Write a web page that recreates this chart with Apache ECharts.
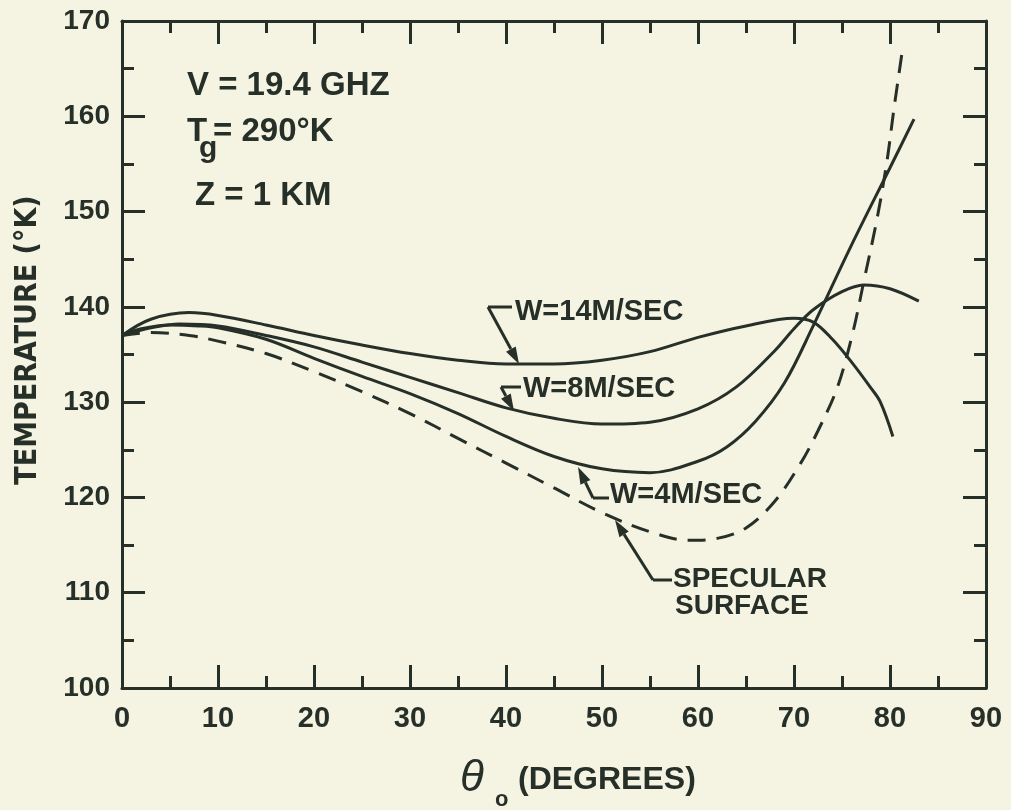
<!DOCTYPE html>
<html><head><meta charset="utf-8">
<script src="https://cdn.jsdelivr.net/npm/echarts/dist/echarts.min.js"></script>
<style>html,body{margin:0;padding:0;background:#f5f3e2;} #c{width:1011px;height:810px;}</style>
</head><body><div id="c"></div>
<script>
// ---- data ----
const thetaW14 = [0,3,7,10,15,20,25,30,35,40,45,50,55,60,65,70,72,74,76,78,79,80.3];
const tempW14  = [137,138.7,139.4,139.1,138.1,137.0,136.0,135.1,134.4,134.0,134.0,134.4,135.3,136.8,138.0,138.8,138.4,136.6,134.2,131.5,130.0,126.4];

const thetaW8 = [0,3,6,10,15,20,25,30,35,40,45,50,55,60,64,68,70,72,75,77.3,80,83];
const tempW8  = [137,137.8,138.2,138.0,137.0,135.8,134.2,132.6,131.0,129.4,128.3,127.7,127.9,129.3,131.6,135.4,137.7,139.7,141.6,142.3,141.9,140.6];

const thetaW4 = [0,2,5,8,10,15,20,25,30,35,40,45,50,55,60,63,66,69,72,76,80,82.5];
const tempW4  = [137,137.7,138.1,138.0,137.8,136.6,134.6,132.7,130.9,128.8,126.4,124.3,123.0,122.6,123.8,125.3,128.0,132.0,138.0,146.5,154.6,159.7];

const thetaSpec = [0,3,7,10,15,20,25,30,35,40,45,50,55,59,62,65,68,70.7,72.5,74.5,76.1,77.3,78.7,79.7,80.4,81.3];
const tempSpec  = [137,137.3,137.0,136.4,135.1,133.2,131.1,128.8,126.2,123.6,121.0,118.4,116.4,115.5,115.7,116.8,119.6,123.6,127.0,131.5,137.2,142.8,149.5,155.4,160.7,167.0];

const xRange = [0, 90], xStep = 10, xMinorStep = 5;
const yRange = [100, 170], yStep = 10, yMinorStep = 5;

// ---- style ----
const INK = '#263029';
const SANS = "'Liberation Sans', Arial, sans-serif";
const NARROW = "'Liberation Sans Narrow', 'DejaVu Sans Condensed', 'Liberation Sans', sans-serif";

const pairs = (xs, ys) => xs.map((x, i) => [x, ys[i]]);

function makeAxis(range, step, position, opts) {
  const o = Object.assign({label: false, line: true, tickLen: 23, margin: 12, size: 28}, opts || {});
  return {
    type: 'value', min: range[0], max: range[1], interval: step, position,
    axisLine: {show: o.line, onZero: false, lineStyle: {color: INK, width: 3}},
    axisTick: {show: true, inside: true, length: o.tickLen, lineStyle: {color: INK, width: 3}},
    minorTick: {show: false},
    splitLine: {show: false},
    axisLabel: {show: o.label, margin: o.margin, color: INK, fontSize: o.size, fontFamily: SANS, fontWeight: 'bold'},
  };
}

function arrow(x1, y1, x2, y2) {
  const dx = x2 - x1, dy = y2 - y1, L = Math.hypot(dx, dy);
  const ux = dx / L, uy = dy / L, len = 17, hw = 5.5;
  const bx = x2 - ux * len, by = y2 - uy * len;
  return [
    {type: 'line', shape: {x1, y1, x2: bx, y2: by}, style: {stroke: INK, lineWidth: 3}},
    {type: 'polygon', shape: {points: [[x2, y2], [bx - uy * hw, by + ux * hw], [bx + uy * hw, by - ux * hw]]}, style: {fill: INK}}
  ];
}
function seg(x1, y1, x2, y2) {
  return {type: 'line', shape: {x1, y1, x2, y2}, style: {stroke: INK, lineWidth: 3}};
}
function txt(x, y, s, size, opts) {
  return {type: 'text', x, y, z: 10, style: Object.assign({text: s, fill: INK, fontSize: size, fontFamily: SANS, fontWeight: 'bold', verticalAlign: 'middle', align: 'left'}, opts || {})};
}

const chart = echarts.init(document.getElementById('c'));
const lineSeries = (name, data, dashed) => ({
  name, type: 'line', data, smooth: 0.35, showSymbol: false, symbol: 'none',
  xAxisIndex: 0, yAxisIndex: 0,
  lineStyle: {color: INK, width: 3, type: dashed ? [18, 11] : 'solid'}, z: 3
});

const graphics = [].concat(
  txt(187, 86, 'V = 19.4 GHZ', 33),
  txt(187, 132, 'T', 33),
  txt(199, 149, 'g', 30),
  txt(213, 132, '= 290°K', 33),
  txt(195, 196, 'Z = 1 KM', 33),
  txt(515, 312, 'W=14M/SEC', 29),
  seg(512, 307, 488, 307), arrow(488, 307, 519, 364),
  txt(523, 389, 'W=8M/SEC', 29),
  seg(521, 387, 501, 387), arrow(501, 387, 514, 411),
  txt(610, 495, 'W=4M/SEC', 29),
  seg(609, 498, 593, 498), arrow(593, 498, 578, 467),
  txt(673, 579, 'SPECULAR', 28),
  txt(675, 606, 'SURFACE', 28),
  seg(672, 580, 653, 580), arrow(653, 580, 615, 520),
  {type: 'text', x: 28, y: 340, rotation: Math.PI / 2, style: {text: 'TEMPERATURE (°K)', fill: INK, fontSize: 30, fontFamily: NARROW, fontWeight: 'bold', align: 'center', verticalAlign: 'middle'}},
  txt(460, 779, 'θ', 44, {fontStyle: 'italic', fontWeight: 'normal'}),
  txt(495, 800, 'o', 22),
  txt(518, 780, '(DEGREES)', 32)
);

chart.setOption({
  backgroundColor: '#f5f3e2',
  animation: false,
  grid: {left: 122, right: 25, top: 21, bottom: 122},
  xAxis: [
    makeAxis(xRange, xStep, 'bottom', {label: true, margin: 16, size: 29}),
    makeAxis(xRange, xMinorStep, 'bottom', {line: false, tickLen: 12}),
    makeAxis(xRange, xStep, 'top'),
    makeAxis(xRange, xMinorStep, 'top', {line: false, tickLen: 12})
  ],
  yAxis: [
    makeAxis(yRange, yStep, 'left', {label: true, margin: 12, size: 28}),
    makeAxis(yRange, yMinorStep, 'left', {line: false, tickLen: 12}),
    makeAxis(yRange, yStep, 'right'),
    makeAxis(yRange, yMinorStep, 'right', {line: false, tickLen: 12})
  ],
  series: [
    lineSeries('W=14M/SEC', pairs(thetaW14, tempW14)),
    lineSeries('W=8M/SEC', pairs(thetaW8, tempW8)),
    lineSeries('W=4M/SEC', pairs(thetaW4, tempW4)),
    lineSeries('SPECULAR SURFACE', pairs(thetaSpec, tempSpec), true)
  ],
  graphic: graphics
});
</script>
</body></html>
